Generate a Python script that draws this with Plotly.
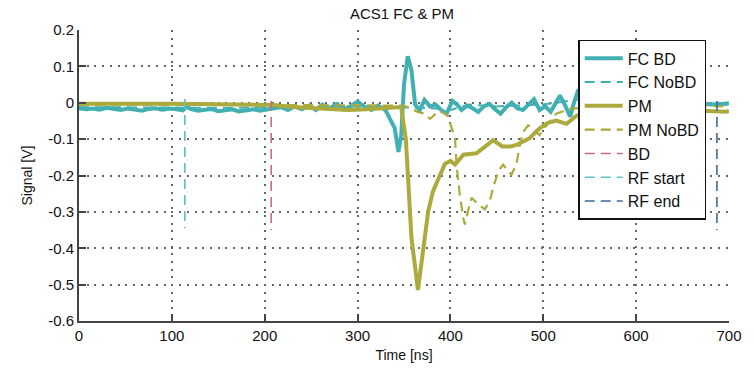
import plotly.graph_objects as go

# ---------------- data ----------------
fc_bd_t = [0, 8, 15, 22, 30, 38, 45, 52, 60, 68, 75, 82, 90, 98, 105, 112, 116, 120,
           128, 135, 142, 150, 158, 165, 172, 180, 188, 195, 202, 210, 218, 225, 232,
           240, 248, 255, 262, 270, 278, 285, 292, 300, 308, 315, 322, 330, 335, 340,
           344, 347, 350, 354, 358, 362, 367, 372, 378, 384, 390, 396, 402, 407, 412,
           418, 424, 430, 436, 442, 448, 454, 460, 466, 472, 478, 484, 490, 496, 502,
           508, 514, 518, 524, 529, 533, 537, 545, 560, 580, 600, 620, 640, 660, 680,
           697, 700]
fc_bd_v = [-0.015, -0.018, -0.016, -0.019, -0.014, -0.017, -0.020, -0.016, -0.018, -0.022,
           -0.017, -0.015, -0.019, -0.016, -0.018, -0.021, -0.010, -0.017, -0.022, -0.020,
           -0.017, -0.023, -0.020, -0.018, -0.024, -0.021, -0.018, -0.022, -0.020, -0.015,
           -0.012, -0.020, -0.010, -0.018, -0.008, -0.020, -0.005, -0.015, -0.003, -0.018,
           -0.010, 0.003, -0.012, -0.020, -0.008, -0.020, -0.045, -0.070, -0.135, -0.090,
           0.050, 0.128, 0.090, -0.005, -0.020, 0.008, -0.010, -0.005, -0.020, -0.030,
           0.005, -0.005, -0.020, -0.008, -0.015, -0.025, -0.010, -0.003, -0.018, -0.030,
           -0.012, 0.000, -0.015, -0.020, -0.005, 0.010, -0.020, -0.010, -0.025, 0.000,
           0.020, -0.010, -0.038, 0.000, 0.030, 0.010, -0.005, 0.005, -0.005, 0.000,
           -0.008, 0.004, -0.005, -0.003, 0.000]

fc_nobd_t = [0, 50, 100, 150, 200, 250, 300, 340, 380, 400, 420, 450, 480, 500, 540, 600, 650, 700]
fc_nobd_v = [-0.012, -0.013, -0.012, -0.014, -0.013, -0.012, -0.010, -0.012, -0.015, -0.020,
             -0.005, -0.010, -0.008, -0.005, 0.010, 0.000, -0.004, -0.005]

pm_t = [0, 50, 100, 150, 200, 210, 230, 260, 290, 310, 330, 347, 352, 358, 365, 370, 376,
        381, 388, 394, 400, 405, 414, 428, 440, 446, 456, 465, 471, 485, 496, 505, 514, 525,
        536, 560, 600, 650, 697, 700]
pm_v = [-0.003, -0.002, -0.003, -0.004, -0.005, -0.006, -0.012, -0.016, -0.020, -0.018,
        -0.016, -0.012, -0.100, -0.370, -0.515, -0.420, -0.300, -0.245, -0.207, -0.168,
        -0.160, -0.170, -0.143, -0.139, -0.115, -0.103, -0.120, -0.120, -0.116, -0.098,
        -0.070, -0.055, -0.049, -0.058, -0.035, -0.020, -0.020, -0.020, -0.025, -0.022]

pm_nobd_t = [0, 100, 200, 300, 350, 365, 372, 378, 388, 397, 401, 405, 406.5, 410, 413.7,
             415.5, 419, 422.7, 429.8, 437, 442.4, 446, 451.4, 456.7, 465.7, 471, 474.7,
             478.3, 483.7, 496, 503.5, 514, 528.5, 560, 620, 700]
pm_nobd_v = [-0.005, -0.005, -0.006, -0.007, -0.008, -0.025, -0.030, -0.044, -0.022, -0.035,
             -0.067, -0.098, -0.170, -0.252, -0.315, -0.335, -0.297, -0.261, -0.279, -0.293,
             -0.270, -0.234, -0.189, -0.170, -0.198, -0.170, -0.116, -0.080, -0.062, -0.089,
             -0.062, -0.030, -0.017, -0.010, -0.008, -0.010]

bd_t = [207, 207]
bd_v = [0.005, -0.350]
rf_start_t = [114, 114]
rf_start_v = [0.010, -0.345]
rf_end_t = [687, 687]
rf_end_v = [0.005, -0.350]

x_ticks = [0, 100, 200, 300, 400, 500, 600, 700]
x_tick_text = ["0", "100", "200", "300", "400", "500", "600", "700"]
y_ticks = [0.2, 0.1, 0, -0.1, -0.2, -0.3, -0.4, -0.5, -0.6]
y_tick_text = ["0.2", "0.1", "0", "-0.1", "-0.2", "-0.3", "-0.4", "-0.5", "-0.6"]

# ---------------- styling ----------------
TEAL = "rgb(66,176,178)"
OLIVE = "rgb(172,170,60)"
RED = "rgb(200,110,125)"
LTEAL = "rgb(90,196,198)"
BLUE = "rgb(60,105,160)"
FONT = "Liberation Sans, Arial, sans-serif"

fig = go.Figure()
fig.add_trace(go.Scatter(x=fc_bd_t, y=fc_bd_v, mode="lines", name="FC BD",
                         line=dict(color=TEAL, width=4)))
fig.add_trace(go.Scatter(x=fc_nobd_t, y=fc_nobd_v, mode="lines", name="FC NoBD",
                         line=dict(color=TEAL, width=2, dash="10px,6px")))
fig.add_trace(go.Scatter(x=pm_t, y=pm_v, mode="lines", name="PM",
                         line=dict(color=OLIVE, width=4)))
fig.add_trace(go.Scatter(x=pm_nobd_t, y=pm_nobd_v, mode="lines", name="PM NoBD",
                         line=dict(color=OLIVE, width=2.2, dash="10px,6px")))
fig.add_trace(go.Scatter(x=bd_t, y=bd_v, mode="lines", name="BD",
                         line=dict(color=RED, width=1.6, dash="10px,6px")))
fig.add_trace(go.Scatter(x=rf_start_t, y=rf_start_v, mode="lines", name="RF start",
                         line=dict(color=LTEAL, width=1.6, dash="10px,6px")))
fig.add_trace(go.Scatter(x=rf_end_t, y=rf_end_v, mode="lines", name="RF end",
                         line=dict(color=BLUE, width=1.6, dash="10px,6px")))

axis_common = dict(
    showline=True, linecolor="#444", linewidth=2, mirror=False,
    ticks="inside", ticklen=7, tickcolor="#444", tickwidth=1.8,
    showgrid=True, gridcolor="#666", griddash="2px,5.7px", gridwidth=1.6,
    zeroline=False, tickfont=dict(family=FONT, size=15, color="#111"),
)

fig.update_layout(
    width=754, height=373,
    margin=dict(l=79, r=24, t=30, b=48),
    paper_bgcolor="white", plot_bgcolor="white",
    font=dict(family=FONT, size=15, color="#111"),
    title=dict(text="ACS1 FC & PM", x=402 / 754, xanchor="center",
               y=1 - 14 / 373, yanchor="middle", yref="container",
               font=dict(family=FONT, size=15, color="#111")),
    xaxis=dict(range=[0, 700], tickvals=x_ticks, ticktext=x_tick_text,
               title=dict(text="Time [ns]", standoff=7, font=dict(size=14)), **axis_common),
    yaxis=dict(range=[-0.6, 0.2], tickvals=y_ticks, ticktext=y_tick_text,
               title=dict(text="Signal [V]", standoff=12, font=dict(size=14)), **axis_common),
    legend=dict(x=(579 - 79) / 651, y=(325 - 40) / 295, xanchor="left", yanchor="top",
                bgcolor="white", bordercolor="#111", borderwidth=1.5,
                font=dict(family=FONT, size=16, color="#111"),
                itemwidth=38, tracegroupgap=0),
    showlegend=True,
)

fig.write_html("out.html")
